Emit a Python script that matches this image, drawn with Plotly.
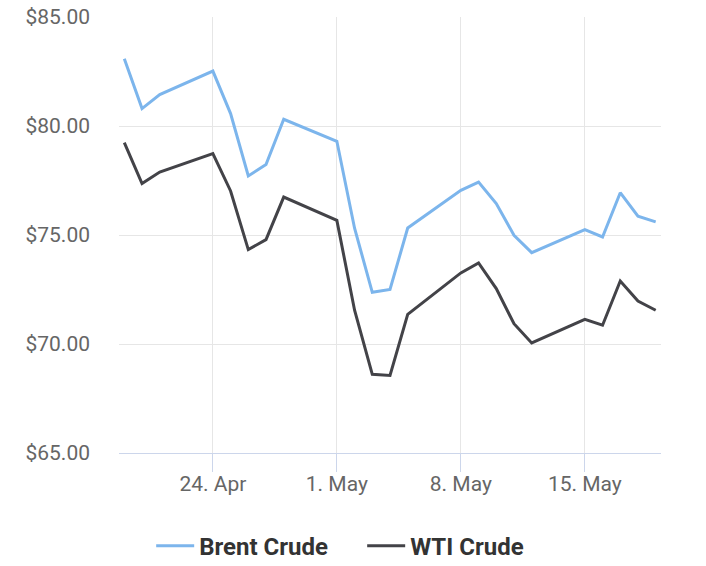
import plotly.graph_objects as go

dates = ["2023-04-19", "2023-04-20", "2023-04-21", "2023-04-24", "2023-04-25", "2023-04-26",
         "2023-04-27", "2023-04-28", "2023-05-01", "2023-05-02", "2023-05-03", "2023-05-04",
         "2023-05-05", "2023-05-08", "2023-05-09", "2023-05-10", "2023-05-11", "2023-05-12",
         "2023-05-15", "2023-05-16", "2023-05-17", "2023-05-18", "2023-05-19"]
brent = [83.09, 80.80, 81.44, 82.52, 80.57, 77.71, 78.23, 80.31, 79.30, 75.31, 72.37, 72.50,
         75.32, 77.05, 77.43, 76.44, 74.99, 74.19, 75.25, 74.91, 76.94, 75.86, 75.60]
wti = [79.24, 77.36, 77.89, 78.73, 77.02, 74.33, 74.79, 76.74, 75.67, 71.55, 68.61, 68.56,
       71.36, 73.26, 73.72, 72.54, 70.93, 70.05, 71.13, 70.86, 72.89, 71.97, 71.55]
tick_dates = ["2023-04-24", "2023-05-01", "2023-05-08", "2023-05-15"]
tick_labels = ["24. Apr", "1. May", "8. May", "15. May"]
y_ticks = [65, 70, 75, 80, 85]

fig = go.Figure()
fig.add_trace(go.Scatter(x=dates, y=brent, mode="lines", name="Brent Crude",
                         line=dict(color="#7cb5ec", width=3)))
fig.add_trace(go.Scatter(x=dates, y=wti, mode="lines", name="WTI Crude",
                         line=dict(color="#434348", width=3)))

fig.update_layout(
    width=706, height=566,
    margin=dict(l=119, r=45, t=17, b=113, autoexpand=False),
    paper_bgcolor="white", plot_bgcolor="white",
    font=dict(family="Roboto", size=21, color="#666666"),
    showlegend=True,
    legend=dict(orientation="h", xref="container", yref="container",
                x=0.513, xanchor="center", y=0.035, yanchor="middle",
                font=dict(size=24, color="#333333", family="Roboto", weight="bold"),
                itemwidth=38, entrywidth=158, tracegroupgap=0),
    xaxis=dict(range=["2023-04-18 16:48", "2023-05-19 07:12"],
               tickvals=tick_dates, ticktext=tick_labels,
               showgrid=True, gridcolor="#e6e6e6", gridwidth=1,
               showline=True, linecolor="#ccd6eb", linewidth=1,
               ticks="outside", ticklen=18, tickcolor="#ccd6eb", tickwidth=1,
               ticklabelstandoff=-6, zeroline=False),
    yaxis=dict(range=[65, 85], tickvals=y_ticks, tickformat="$.2f",
               showgrid=True, gridcolor="#e6e6e6", gridwidth=1,
               showline=False, zeroline=False, ticks="",
               ticklabelstandoff=28),
)

fig.write_html("out.html", config={"displayModeBar": False},
               post_script="document.body.style.margin='0';")
